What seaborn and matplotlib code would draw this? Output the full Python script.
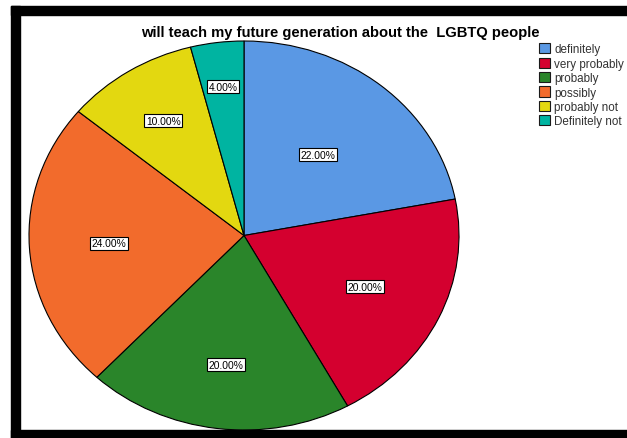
import matplotlib
matplotlib.use("Agg")
import matplotlib.pyplot as plt
from matplotlib.patches import Rectangle
import numpy as np
import seaborn as sns

# Survey answers and their shares (percent)
categories = ["definitely", "very probably", "probably", "possibly",
              "probably not", "Definitely not"]
percentages = [22.0, 20.0, 20.0, 24.0, 10.0, 4.0]
title = "will teach my future generation about the  LGBTQ people"

slice_colors = ["#5A98E4", "#D4002F", "#2A852A", "#F26B2C", "#E3D810", "#00B4A1"]
# radial placement of each percentage tag (fraction of radius)
label_radii = [0.54, 0.62, 0.67, 0.63, 0.70, 0.77]

sns.set_theme(style="white")
plt.rcParams["font.family"] = ["Liberation Sans", "DejaVu Sans"]

W, H = 627, 439
fig = plt.figure(figsize=(W / 100, H / 100), dpi=100)
fig.patch.set_facecolor("white")

# frame pieces (left, top, bottom) in pixel units converted to figure fraction
def band(x0, y0, x1, y1):
    fig.patches.append(Rectangle((x0 / W, 1 - y1 / H), (x1 - x0) / W, (y1 - y0) / H,
                                 transform=fig.transFigure, color="black", zorder=0))

band(11, 7, 20, 439)
band(11, 7, 627, 16)
band(11, 431, 627, 439)

# pie axes spanning the elliptical footprint
ax = fig.add_axes([29 / W, 1 - 431 / H, 430 / W, 389 / H])
palette = sns.color_palette(slice_colors)
wedges, _ = ax.pie(percentages, colors=palette, startangle=90, counterclock=False,
                   wedgeprops=dict(edgecolor="black", linewidth=0.8))
ax.set_aspect("auto")
ax.set_xlim(-1, 1)
ax.set_ylim(-1, 1)
ax.axis("off")

total = sum(percentages)
start = 90.0
for val, r in zip(percentages, label_radii):
    sweep = 360.0 * val / total
    mid = np.deg2rad(start - sweep / 2)
    start -= sweep
    ax.text(r * np.cos(mid), r * np.sin(mid), f"{val:.2f}%", ha="center", va="center",
            fontsize=7.4, color="black",
            bbox=dict(boxstyle="square,pad=0.15", facecolor="white",
                      edgecolor="black", linewidth=0.8))

fig.text(340 / W, 1 - 32.5 / H, title, ha="center", va="center",
         fontsize=10.6, fontweight="bold", color="black")

handles = [Rectangle((0, 0), 1, 1, facecolor=c, edgecolor="#1a1a1a", linewidth=0.8)
           for c in slice_colors]
leg = fig.legend(handles, categories, loc="upper left",
                 bbox_to_anchor=(537 / W, 1 - 42 / H), frameon=False,
                 fontsize=8.4, handlelength=0.95, handleheight=0.95,
                 handletextpad=0.35, labelspacing=0.2, borderpad=0.2,
                 borderaxespad=0)
for t in leg.get_texts():
    t.set_color("#333333")

fig.savefig("out.png", dpi=100, facecolor="white")
